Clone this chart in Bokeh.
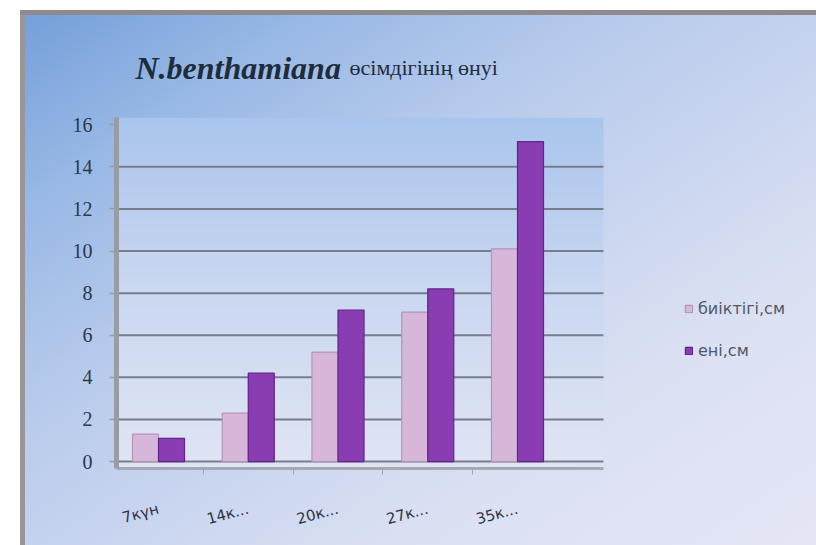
import numpy as np
from bokeh.plotting import figure
from bokeh.models import Range1d, FixedTicker, Label, ColumnDataSource
from bokeh.transform import dodge
from bokeh.embed import file_html
from bokeh.resources import INLINE

# Growth of N.benthamiana by day of measurement
days = ["7күн", "14к...", "20к...", "27к...", "35к..."]
height_cm = [1.3, 2.3, 5.2, 7.1, 10.1]   # биіктігі,см
width_cm = [1.1, 4.2, 7.2, 8.2, 15.2]    # ені,см
y_ticks = [0, 2, 4, 6, 8, 10, 12, 14, 16]
series_names = ["биіктігі,см", "ені,см"]
title_species = "N.benthamiana"
title_rest = "өсімдігінің өнуі"

W, H = 816, 545
FL, FB = 116, 468             # left / bottom edges of the plotting frame (page px)
PX_X, PX_Y = 89.75, 21.05     # pixels per data unit

# chart wall extent (data units)
X0, XW = -0.468, 4.958
Y0, YW = -0.33, 16.33
# the frame runs to the top and right edges of the page so that title and legend fit in it
X1 = X0 + (W - FL) / PX_X
Y1 = Y0 + FB / PX_Y

idx = list(range(len(days)))
src = ColumnDataSource(dict(x=idx, h=height_cm, w=width_cm))

p = figure(width=W, height=H, output_backend="svg", toolbar_location=None,
           x_range=Range1d(X0, X1), y_range=Range1d(Y0, Y1),
           min_border_left=FL, min_border_right=0,
           min_border_top=0, min_border_bottom=H - FB,
           title_location=None,
           border_fill_color=None, background_fill_color=None,
           outline_line_color=None)

# slide background: blue corner fading to pale lavender, white photo margin + grey edge
p.styles = {
    "background": (
        "linear-gradient(#ffffff,#ffffff) 0 0/100% 10px no-repeat,"
        "linear-gradient(#ffffff,#ffffff) 0 0/20px 100% no-repeat,"
        "linear-gradient(#8f8a8e,#8f8a8e) 20px 10px/100% 5px no-repeat,"
        "linear-gradient(#9a9597,#9a9597) 20px 10px/5px 100% no-repeat,"
        "linear-gradient(to bottom right, #6f9bd8 0%, #98b8e5 20%, #b8cbec 40%,"
        " #c8d4ef 55%, #dbe1f3 75%, #e4e6f5 100%)"
    )
}

# back wall of the chart: vertical gradient
N = 256
bottom_rgb = np.array([224, 229, 244], dtype=float)
mid_rgb = np.array([203, 216, 241], dtype=float)
top_rgb = np.array([170, 197, 237], dtype=float)
t = np.linspace(0, 1, N)[:, None]
cols = np.where(t < 0.5, bottom_rgb + (mid_rgb - bottom_rgb) * (t / 0.5),
                mid_rgb + (top_rgb - mid_rgb) * ((t - 0.5) / 0.5))
img = np.empty((N, 1), dtype=np.uint32)
view = img.view(dtype=np.uint8).reshape((N, 1, 4))
view[:, :, 0:3] = cols[:, None, :].astype(np.uint8)
view[:, :, 3] = 255
p.image_rgba(image=[img], x=X0, y=Y0, dw=XW - X0, dh=YW - Y0, level="image")

# horizontal grid lines across the wall
grid_y = y_ticks[:-1]
p.segment(x0=[X0] * len(grid_y), x1=[XW] * len(grid_y), y0=grid_y, y1=grid_y,
          line_color="#767e8d", line_width=2, level="underlay")
p.xgrid.visible = False
p.ygrid.visible = False

# bars
bw = 0.29
p.vbar(x=dodge("x", -bw / 2), top="h", width=bw, source=src,
       fill_color="#d6b6d9", line_color="#b395b8", line_width=1.2,
       legend_label=series_names[0])
p.vbar(x=dodge("x", bw / 2), top="w", width=bw, source=src,
       fill_color="#8a3db3", line_color="#5f2587", line_width=1.2,
       legend_label=series_names[1])

# x axis
p.xaxis.bounds = (X0, XW)
p.xaxis.ticker = FixedTicker(ticks=idx, minor_ticks=[i + 0.5 for i in idx[:-1]])
p.xaxis.major_label_overrides = {i: d for i, d in zip(idx, days)}
p.xaxis.major_label_orientation = 0.26
p.xaxis.major_tick_line_color = None
p.xaxis.minor_tick_out = 6
p.xaxis.minor_tick_in = 0
p.xaxis.minor_tick_line_color = "#a0a3ab"
p.xaxis.axis_line_color = "#a6a9b1"
p.xaxis.axis_line_width = 3
p.xaxis.major_label_standoff = 34
p.xaxis.major_label_text_font = "DejaVu Sans"
p.xaxis.major_label_text_font_size = "15px"
p.xaxis.major_label_text_color = "#303548"

# y axis
p.yaxis.bounds = (Y0, YW)
p.yaxis.ticker = FixedTicker(ticks=y_ticks)
p.yaxis.axis_line_color = "#9a9ca4"
p.yaxis.axis_line_width = 5
p.yaxis.major_tick_out = 7
p.yaxis.major_tick_in = 0
p.yaxis.major_tick_line_color = "#9a9ca4"
p.yaxis.major_tick_line_width = 1.5
p.yaxis.minor_tick_line_color = None
p.yaxis.major_label_standoff = 17
p.yaxis.major_label_text_font = "Liberation Serif"
p.yaxis.major_label_text_font_size = "20px"
p.yaxis.major_label_text_color = "#2b3848"

# legend to the right of the chart
lg = p.legend[0]
lg.location = (684 - FL, FB - 360)
lg.padding = 0
lg.margin = 0
lg.border_line_color = None
lg.background_fill_alpha = 0
lg.glyph_width = 9
lg.glyph_height = 9
lg.label_height = 18
lg.spacing = 23
lg.label_standoff = 5
lg.label_text_font = "DejaVu Sans"
lg.label_text_font_size = "16px"
lg.label_text_color = "#525866"

# two-part title
p.add_layout(Label(x=135 - FL, y=FB - 67, x_units="screen", y_units="screen",
                   text=title_species, text_font="Liberation Serif",
                   text_font_style="bold italic", text_font_size="32px",
                   text_color="#1f2c3c", text_baseline="alphabetic"))
p.add_layout(Label(x=349 - FL, y=FB - 67, x_units="screen", y_units="screen",
                   text=title_rest, text_font="Liberation Serif",
                   text_font_size="22px", text_color="#1f2c3c",
                   text_baseline="alphabetic"))

open("out.html", "w").write(file_html(p, INLINE))
